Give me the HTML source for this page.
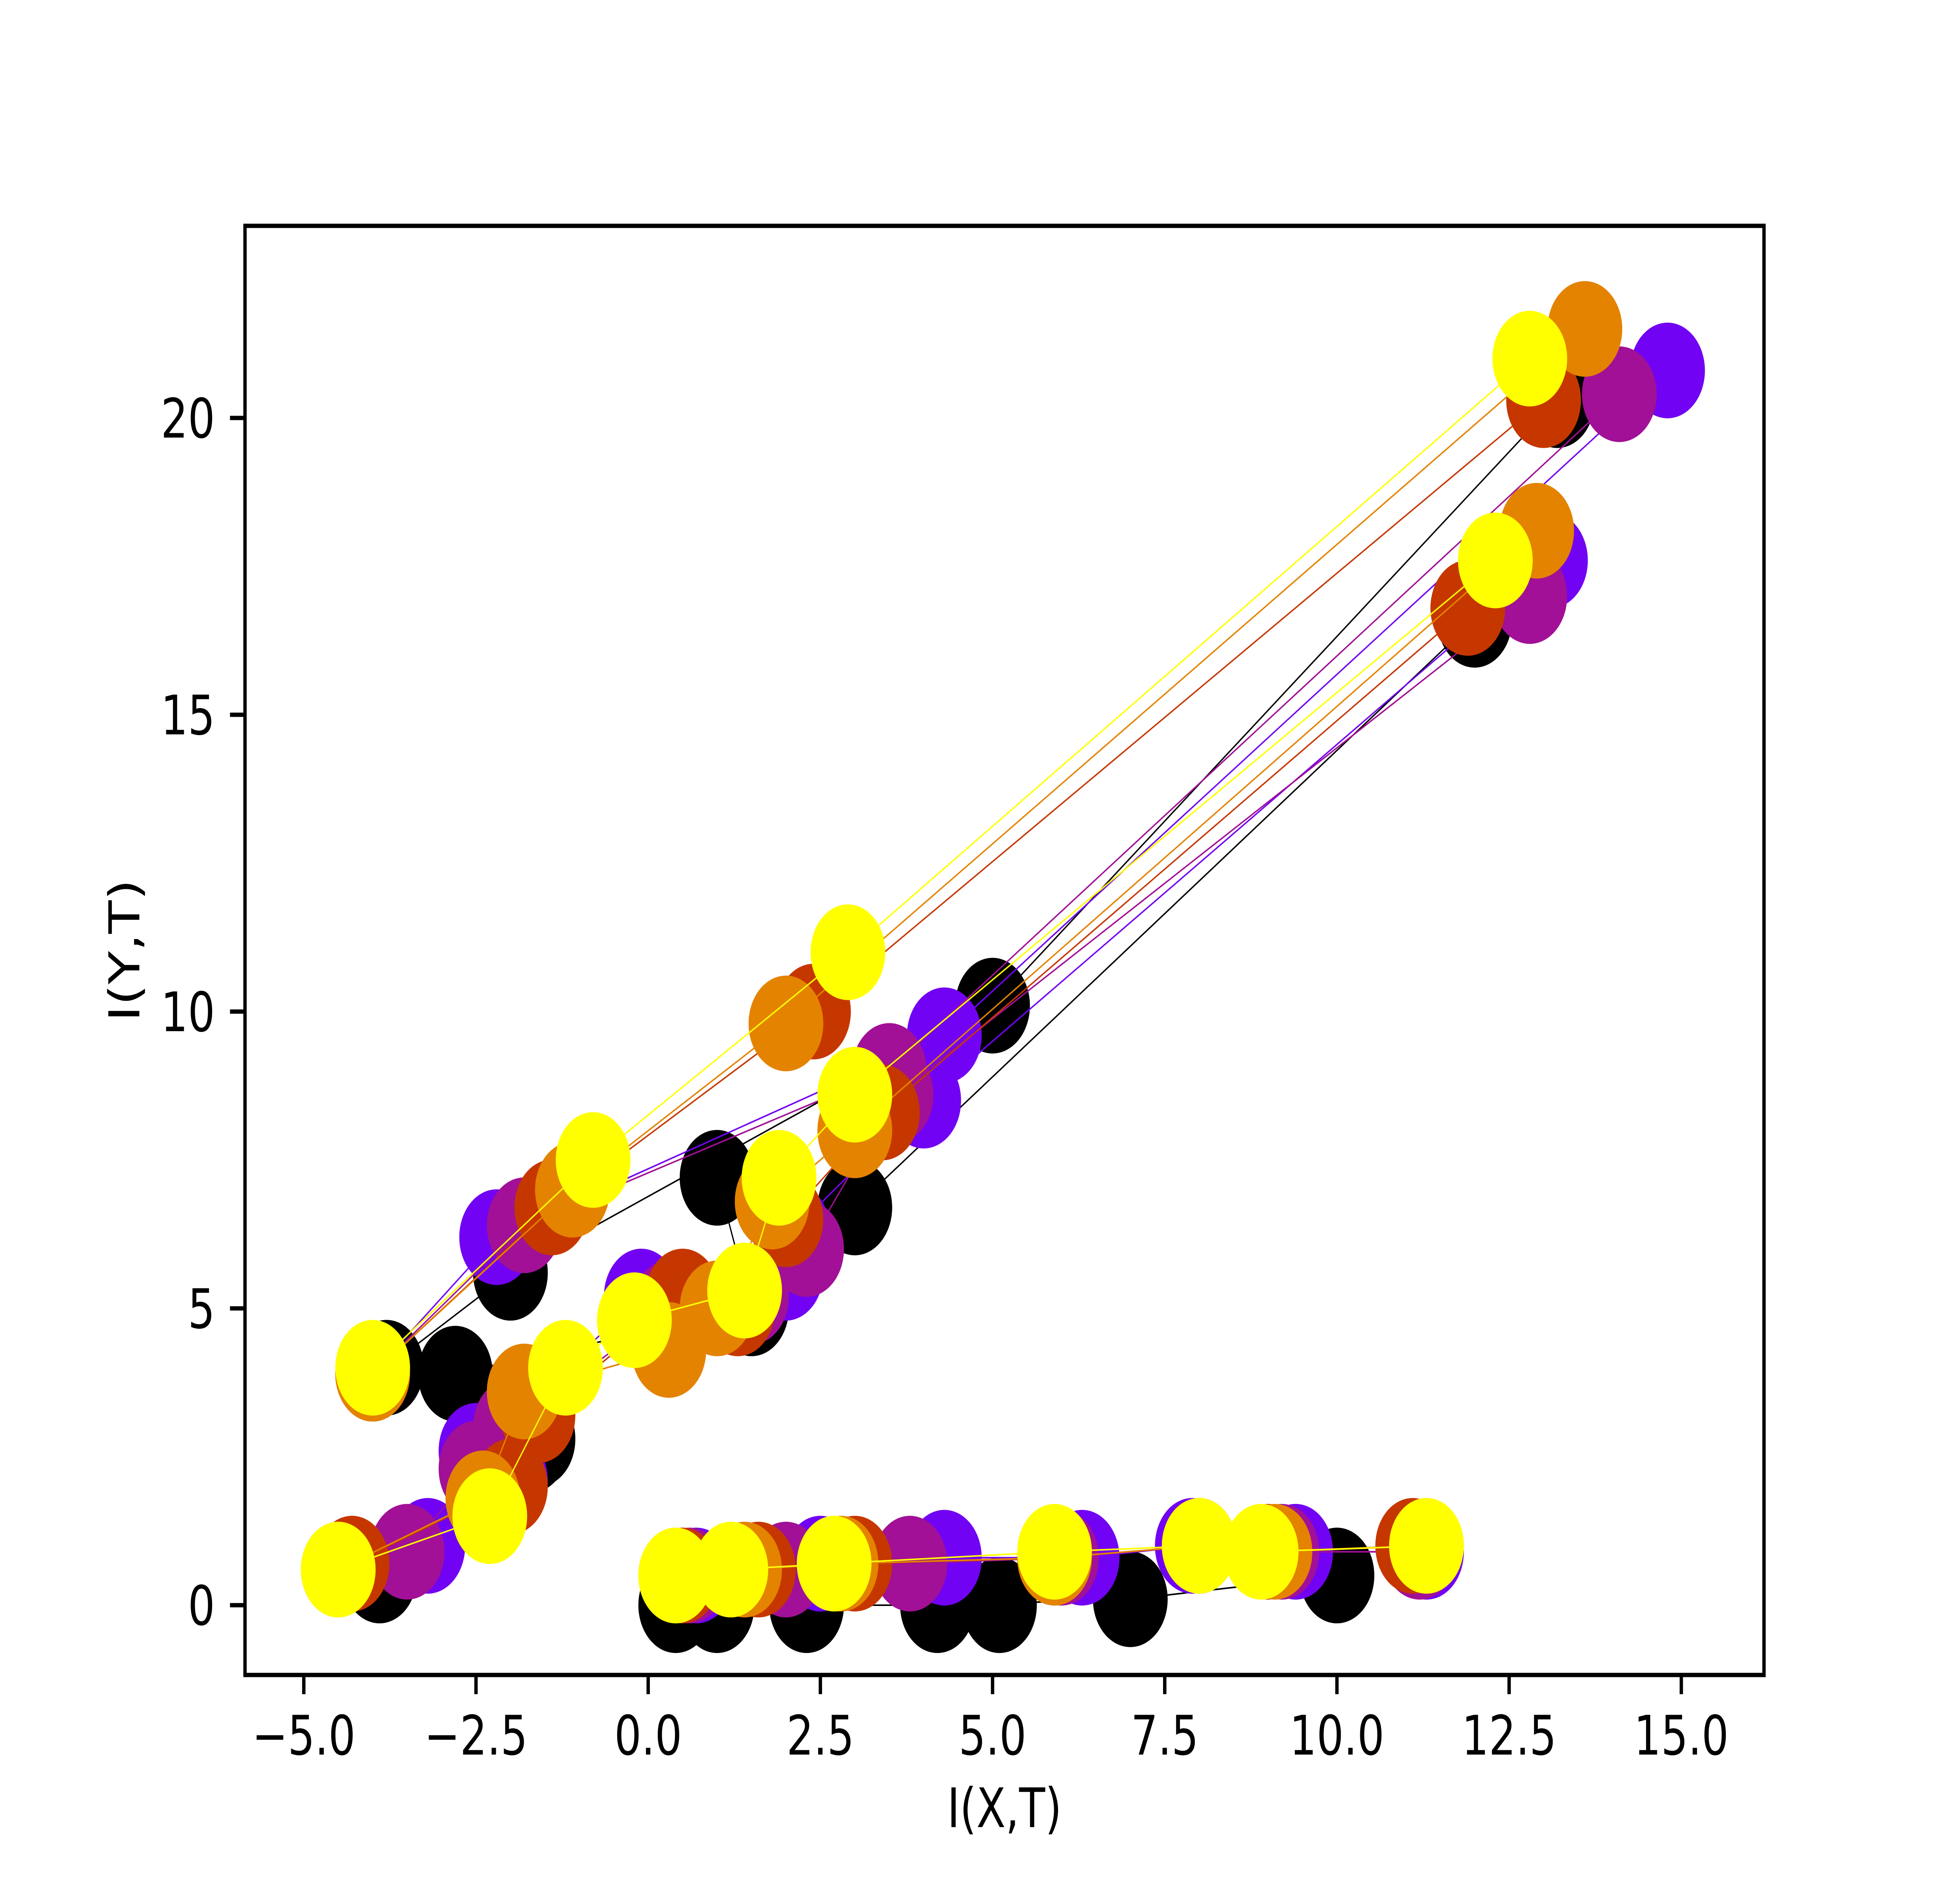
<!DOCTYPE html>
<html><head><meta charset="utf-8"><style>html,body{margin:0;padding:0;background:#fff;overflow:hidden;width:100%;height:100%}svg{display:block;width:100vw;height:100vh}</style></head>
<body>
<svg id="chart" xmlns="http://www.w3.org/2000/svg" viewBox="0 0 6400 4800" preserveAspectRatio="none" font-family="'DejaVu Sans','Liberation Sans',sans-serif">
<rect width="6400" height="4800" fill="#fff"/>
<g id="plot"></g>
<rect x="800" y="576" width="4960" height="3696" fill="none" stroke="#000" stroke-width="11"/>
<g id="ticks" font-size="139" fill="#000"></g>
<text x="3280" y="4660" font-size="139" text-anchor="middle">I(X,T)</text>
<text x="455" y="2424" font-size="139" text-anchor="middle" transform="rotate(-90 455 2424)">I(Y,T)</text>
</svg>
<script>
const xTicks = [-5, -2.5, 0, 2.5, 5, 7.5, 10, 12.5, 15];
const yTicks = [0, 5, 10, 15, 20];
// chain A (upper network) layers: x/y per epoch
const A1x = [13.2, 14.8, 14.1, 13.0, 13.6, 12.8], A1y = [20.3, 20.8, 20.4, 20.3, 21.5, 21.0];
const A2x = [5.0, 4.3, 3.5, 2.4, 2.0, 2.9], A2y = [10.1, 9.6, 9.0, 10.0, 9.8, 11.0];
const A3x = [-2.0, -2.2, -1.8, -1.4, -1.1, -0.8], A3y = [5.6, 6.2, 6.4, 6.7, 7.0, 7.5];
const A4x = [-3.8, -4.0, -4.0, -4.0, -4.0, -4.0], A4y = [4.0, 3.9, 3.9, 3.9, 3.9, 4.0];
// chain B
const B1x = [12.0, 13.1, 12.8, 11.9, 12.9, 12.3], B1y = [16.6, 17.6, 17.0, 16.8, 18.1, 17.6];
const B2x = [3.0, 4.0, 3.6, 3.4, 3.0, 3.0], B2y = [6.7, 8.5, 8.6, 8.3, 8.0, 8.6];
const B3x = [1.0, 2.1, 2.3, 2.0, 1.8, 1.9], B3y = [7.2, 6.3, 6.0, 6.5, 6.8, 7.2];
const B4x = [1.5, 2.0, 1.5, 1.3, 1.0, 1.4], B4y = [5.0, 5.6, 5.2, 5.0, 5.0, 5.3];
const B5x = [-2.8, -0.1, 0.3, 0.5, 0.3, -0.2], B5y = [3.9, 5.2, 5.0, 5.2, 4.3, 4.8];
const B6x = [-1.6, -2.5, -2.0, -1.6, -1.8, -1.2], B6y = [2.8, 2.6, 3.0, 3.2, 3.6, 4.0];
const B7x = [-1.7, -2.0, -2.5, -2.0, -2.4, -2.3], B7y = [2.7, 2.1, 2.3, 2.0, 1.8, 1.5];
const B8x = [-3.9, -3.2, -3.5, -4.3, -4.5, -4.5], B8y = [0.5, 1.0, 0.9, 0.7, 0.6, 0.6];
// chain C (bottom)
const C1x = [10.0, 11.3, 11.2, 11.1, 11.3, 11.3], C1y = [0.5, 0.9, 0.9, 1.0, 1.0, 1.0];
const C2x = [7.0, 9.4, 9.2, 9.0, 9.1, 8.9], C2y = [0.1, 0.9, 0.9, 0.9, 0.9, 0.9];
const C3x = [4.2, 7.9, 8.0, 8.0, 8.0, 8.0], C3y = [0.0, 1.0, 1.0, 1.0, 1.0, 1.0];
const C4x = [5.1, 6.3, 6.0, 5.9, 5.9, 5.9], C4y = [0.0, 0.8, 0.8, 0.8, 0.8, 0.9];
const C5x = [2.3, 4.3, 3.8, 3.0, 2.8, 2.7], C5y = [0.0, 0.8, 0.7, 0.7, 0.7, 0.7];
const C6x = [1.0, 2.5, 2.0, 1.6, 1.4, 1.2], C6y = [0.0, 0.7, 0.6, 0.6, 0.6, 0.6];
const C7x = [0.4, 0.7, 0.6, 0.5, 0.4, 0.4], C7y = [0.0, 0.5, 0.5, 0.5, 0.5, 0.5];

const chains = [
  [[A1x,A1y],[A2x,A2y],[A3x,A3y],[A4x,A4y]],
  [[B1x,B1y],[B2x,B2y],[B3x,B3y],[B4x,B4y],[B5x,B5y],[B6x,B6y],[B7x,B7y],[B8x,B8y]],
  [[C1x,C1y],[C2x,C2y],[C3x,C3y],[C4x,C4y],[C5x,C5y],[C6x,C6y],[C7x,C7y]]
];
const NS = 'http://www.w3.org/2000/svg';
function xs(v){ return 992 + (v + 5) * 224.9; }
function ys(v){ return 4094 - v * 151.4; }
function cmap(t){
  const r = Math.sqrt(t), g = t*t*t, b = Math.max(0, Math.sin(2*Math.PI*t));
  return 'rgb(' + Math.round(r*255) + ',' + Math.round(g*255) + ',' + Math.round(b*255) + ')';
}
const plot = document.getElementById('plot');
const nE = A1x.length;
for (let e = 0; e < nE; e++) {
  const col = cmap(e / (nE - 1));
  chains.forEach((ch, ci) => {
    let pts = ch.map(p => xs(p[0][e]).toFixed(1) + ',' + ys(p[1][e]).toFixed(1)).join(' ');
    const pl = document.createElementNS(NS, 'polyline');
    pl.setAttribute('points', pts);
    pl.setAttribute('fill', 'none');
    pl.setAttribute('stroke', col);
    pl.setAttribute('stroke-width', '4');
    
    
    plot.appendChild(pl);
    ch.forEach(p => {
      const c = document.createElementNS(NS, 'circle');
      c.setAttribute('cx', xs(p[0][e]));
      c.setAttribute('cy', ys(p[1][e]));
      c.setAttribute('r', '122');
      c.setAttribute('fill', col);
      
      
      plot.appendChild(c);
    });
  });
}
const tg = document.getElementById('ticks');
xTicks.forEach(v => {
  const l = document.createElementNS(NS, 'line');
  l.setAttribute('x1', xs(v)); l.setAttribute('x2', xs(v));
  l.setAttribute('y1', 4272); l.setAttribute('y2', 4321);
  l.setAttribute('stroke', '#000'); l.setAttribute('stroke-width', '11');
  
  
  tg.appendChild(l);
  const t = document.createElementNS(NS, 'text');
  t.setAttribute('x', xs(v)); t.setAttribute('y', 4475);
  t.setAttribute('text-anchor', 'middle');
  t.textContent = (v < 0 ? '\u2212' : '') + Math.abs(v).toFixed(1);
  
  
  tg.appendChild(t);
});
yTicks.forEach(v => {
  const l = document.createElementNS(NS, 'line');
  l.setAttribute('x1', 751); l.setAttribute('x2', 800);
  l.setAttribute('y1', ys(v)); l.setAttribute('y2', ys(v));
  l.setAttribute('stroke', '#000'); l.setAttribute('stroke-width', '11');
  
  
  tg.appendChild(l);
  const t = document.createElementNS(NS, 'text');
  t.setAttribute('x', 702); t.setAttribute('y', ys(v) + 50);
  t.setAttribute('text-anchor', 'end');
  t.textContent = String(v);
  
  
  tg.appendChild(t);
});
</script>
</body></html>
